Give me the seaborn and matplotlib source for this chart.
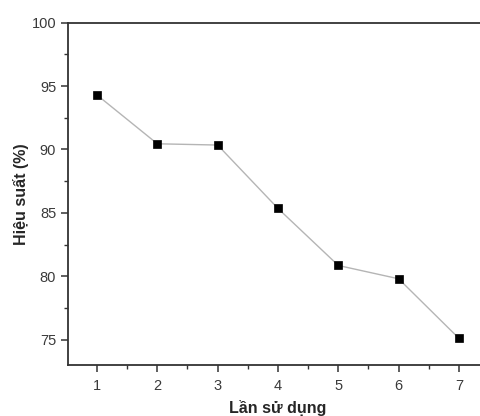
import numpy as np
import pandas as pd
import matplotlib
matplotlib.use("Agg")
import matplotlib.pyplot as plt
import seaborn as sns
from matplotlib.ticker import MultipleLocator

# data
lan_su_dung = [1, 2, 3, 4, 5, 6, 7]
hieu_suat = [94.3, 90.45, 90.35, 85.35, 80.85, 79.8, 75.1]

df = pd.DataFrame({"lan": lan_su_dung, "hs": hieu_suat})

sns.set_style("ticks")
plt.rcParams['font.family'] = ['Liberation Sans', 'DejaVu Sans']

fig = plt.figure(figsize=(4.81, 4.16), dpi=100)
ax = fig.add_axes([0.1414, 0.1226, 0.873, 0.8228])

sns.lineplot(data=df, x="lan", y="hs", ax=ax, color="#b5b5b5", linewidth=1.0,
             marker="s", markersize=6, markerfacecolor="black",
             markeredgecolor="black", markeredgewidth=0.5)

ax.set_xlim(0.52, 7.48)
ax.set_ylim(73.0, 100)
ax.xaxis.set_major_locator(MultipleLocator(1))
ax.xaxis.set_minor_locator(MultipleLocator(0.5))
ax.yaxis.set_major_locator(MultipleLocator(5))
ax.yaxis.set_minor_locator(MultipleLocator(2.5))

for s in ax.spines.values():
    s.set_visible(True)
    s.set_color("#333333")
    s.set_linewidth(1.3)

ax.tick_params(which="major", direction="out", length=5, width=1.1, color="#333333",
               labelsize=10.5, labelcolor="#3a3a3a")
ax.tick_params(which="minor", direction="out", length=3, width=1.0, color="#333333")
ax.tick_params(top=False, right=False, which="both")
ax.tick_params(axis="x", which="major", pad=5)

ax.set_xlabel("Lần sử dụng", fontsize=11.5, fontweight="bold", labelpad=5)
ax.set_ylabel("Hiệu suất (%)", fontsize=11.5, fontweight="bold")
ax.yaxis.set_label_coords(-0.093, 0.5)

fig.savefig("out.png", dpi=100)
